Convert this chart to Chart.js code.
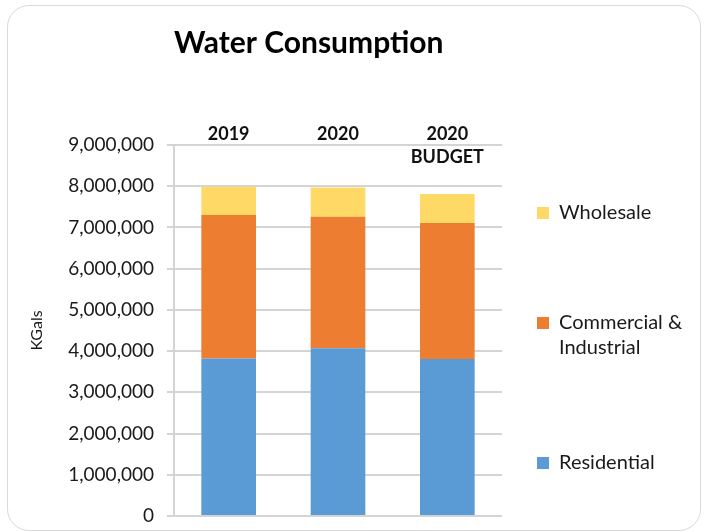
<!DOCTYPE html>
<html lang="en">
<head>
<meta charset="UTF-8">
<title>Water Consumption</title>
<script src="https://cdn.jsdelivr.net/npm/chart.js"></script>
<style>
    html, body { margin: 0; padding: 0; background: #fff; }
    .card {
        position: absolute;
        left: 7px; top: 5px;
        width: 692px; height: 524px;
        border: 1px solid #d9d9d9;
        border-radius: 22px;
        background: #fff;
    }
    .chart-box { position: absolute; left: 0; top: 0; width: 707px; height: 531px; }
</style>
</head>
<body>
<div class="card"></div>
<div class="chart-box"><canvas id="waterChart" width="707" height="531"></canvas></div>
<script>
    // Consumption per period, in KGals
    const periods = ['2019', '2020', '2020'];
    const periodNotes = ['', '', 'BUDGET'];
    const residential = [3820000, 4070000, 3810000];
    const commercial = [3480000, 3190000, 3300000];
    const wholesale = [690000, 710000, 700000];

    const yMax = 9000000;
    const yStep = 1000000;

    const FONT = 'Lato, "Open Sans", sans-serif';
    const gridColor = '#d4d4d4';

    // keeps the legend boxes lined up a little to the right of the bars
    const legendNudge = {
        id: 'legendNudge',
        afterLayout(chart) {
            const lg = chart.legend;
            const pad = lg.options.labels.padding;
            lg.left = chart.chartArea.right + 35 - pad;
            lg.right = chart.width;
            lg.width = lg.right - lg.left;
            lg.top += 80;
            lg.bottom += 80;
        }
    };

    const ctx = document.getElementById('waterChart').getContext('2d');
    new Chart(ctx, {
        type: 'bar',
        data: {
            labels: periods,
            datasets: [
                { label: 'Residential', data: residential, backgroundColor: '#5b9bd5' },
                { label: 'Commercial & Industrial', data: commercial, backgroundColor: '#ed7d31' },
                { label: 'Wholesale', data: wholesale, backgroundColor: '#ffd966' }
            ]
        },
        options: {
            responsive: false,
            animation: false,
            layout: { padding: { top: 0, left: 20, right: 0, bottom: 15 } },
            datasets: { bar: { categoryPercentage: 1, barPercentage: 0.5 } },
            scales: {
                x: {
                    stacked: true,
                    position: 'top',
                    grid: { display: false, drawTicks: false },
                    border: { display: false },
                    ticks: {
                        color: '#111',
                        font: { family: FONT, size: 18, weight: 'bold', lineHeight: '25px' },
                        padding: -2,
                        maxRotation: 0
                    },
                    afterFit(scale) { scale.height = 75; }
                },
                // second row under the year, drawn just inside the plot
                x2: {
                    type: 'category',
                    labels: periodNotes,
                    position: 'top',
                    offset: true,
                    weight: -1,
                    grid: { display: false, drawTicks: false },
                    border: { display: false },
                    ticks: {
                        mirror: true,
                        autoSkip: false,
                        padding: 0,
                        color: '#111',
                        font: { family: FONT, size: 18, weight: 'bold', lineHeight: '25px' },
                        maxRotation: 0
                    }
                },
                y: {
                    stacked: true,
                    min: 0,
                    max: yMax,
                    grid: { color: gridColor, lineWidth: 2, tickLength: 7 },
                    border: { color: gridColor, width: 2 },
                    ticks: {
                        stepSize: yStep,
                        padding: 13,
                        color: '#1a1a1a',
                        font: { family: FONT, size: 19 },
                        callback: v => v.toLocaleString('en-US')
                    },
                    title: {
                        display: true,
                        text: 'KGals',
                        color: '#1a1a1a',
                        font: { family: FONT, size: 16 },
                        padding: { top: 7, bottom: 0 }
                    },
                    afterFit(scale) {
                        scale.width = 154;
                        scale.paddingBottom = 0;
                    }
                }
            },
            plugins: {
                title: {
                    display: true,
                    text: 'Water Consumption',
                    align: 'start',
                    fullSize: false,
                    color: '#000',
                    font: { family: FONT, size: 30, weight: 'bold', lineHeight: '34px' },
                    padding: { top: 26, bottom: 10 }
                },
                legend: {
                    position: 'right',
                    maxWidth: 205,
                    reverse: true,
                    labels: {
                        boxWidth: 12,
                        boxHeight: 12,
                        padding: 90,
                        color: '#1a1a1a',
                        font: { family: FONT, size: 20, lineHeight: '25px' },
                        generateLabels(chart) {
                            const items = Chart.defaults.plugins.legend.labels.generateLabels(chart);
                            items.forEach(item => {
                                if (item.text.includes('& ')) item.text = item.text.replace('& ', '&\n').split('\n');
                            });
                            return items;
                        }
                    }
                },
                tooltip: { enabled: false }
            }
        },
        plugins: [legendNudge]
    });
</script>
</body>
</html>
